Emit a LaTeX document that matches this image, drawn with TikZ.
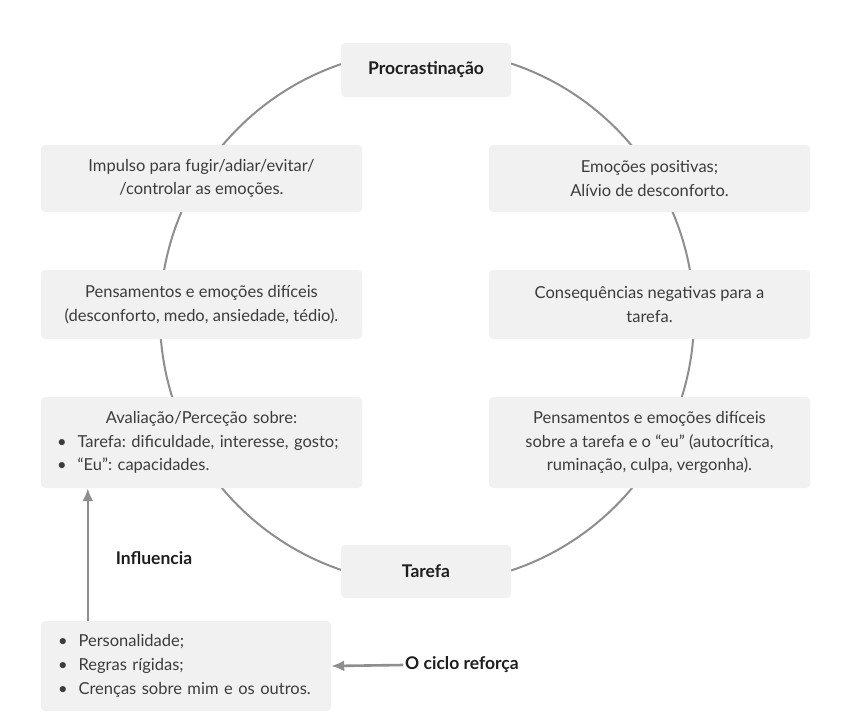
\documentclass[tikz,border=0pt]{standalone}
\usepackage{fontspec}
\setmainfont{Lato}
\usepackage{xcolor}
\usepackage{tikz}
\usetikzlibrary{arrows.meta}

\definecolor{boxgray}{HTML}{F1F1F1}
\definecolor{linegray}{HTML}{8E8E8E}
\definecolor{textgray}{HTML}{3C3C3C}
\definecolor{labelblack}{HTML}{1E1E1E}
\frenchspacing

\tikzset{
  stagebox/.style={fill=boxgray, rounded corners=4pt, minimum width=321pt, minimum height=68pt,
    align=center, text=textgray, font=\fontsize{16.5}{23.5}\selectfont},
  keybox/.style={fill=boxgray, rounded corners=4pt, minimum width=170pt, minimum height=54pt,
    text=labelblack, font=\bfseries\fontsize{17.5}{20}\selectfont},
  listbox/.style={fill=boxgray, rounded corners=4pt, inner xsep=17pt, align=left,
    text=textgray, font=\fontsize{16.5}{24}\selectfont},
  flowlabel/.style={text=labelblack, inner sep=2pt, font=\bfseries\fontsize{17.5}{20}\selectfont},
  flowarrow/.style={-{Latex[length=13pt,width=11pt]}, draw=linegray, line width=2.6pt}
}

\begin{document}
\begin{tikzpicture}[x=1pt,y=-1pt]
        \useasboundingbox (0,0) rectangle (854,720);
        % Draw the cycle
        \node[draw=linegray, line width=2pt, circle, minimum size=534pt] (cycle) at (427,317) {};
        % Draw the stages
        \node[keybox] (procrast) at (426,70) {Procrastinação};
        \node[keybox, minimum height=53pt] (tarefa) at (426,571.5) {Tarefa};
        \node[stagebox, minimum height=67pt] (impulso) at (201.5,178.5) {Impulso para fugir/adiar/evitar/\\/controlar as emoções.};
        \node[stagebox, minimum height=67pt] (alivio) at (649.5,178.5) {Emoções positivas;\\Alívio de desconforto.};
        \node[stagebox, minimum height=69pt] (medo) at (201.5,304.5) {Pensamentos e emoções difíceis\\(desconforto, medo, ansiedade, tédio).};
        \node[stagebox, minimum height=69pt] (conseq) at (649.5,304.5) {Consequências negativas para a\\tarefa.};
        \node[stagebox, minimum height=91pt, text width=289pt, align=left] (avalia) at (201.5,442.5)
          {\makebox[289pt]{Avaliação/Perceção sobre:}\\\textbullet\ \ Tarefa: dificuldade, interesse, gosto;\\\textbullet\ \ “Eu”: capacidades.};
        \node[stagebox, minimum height=91pt] (culpa) at (649.5,442.5) {Pensamentos e emoções difíceis\\sobre a tarefa e o “eu” (autocrítica,\\ruminação, culpa, vergonha).};
        % Draw the base box
        \node[listbox, minimum width=290pt, minimum height=90pt, text width=256pt] (base) at (186,666)
          {\textbullet\ \ Personalidade;\\\textbullet\ \ Regras rígidas;\\\textbullet\ \ Crenças sobre mim e os outros.};
        % Draw arrows
        \node[flowlabel] (influ) at (154,558) {Influencia};
        \node[flowlabel] (reforca) at (462,665) {O ciclo reforça};
        \draw[flowarrow] ([xshift=47pt]base.north west) -- ([xshift=47pt]avalia.south west);
        \draw[flowarrow] (reforca.west) -- (base.east);
\end{tikzpicture}
\end{document}
